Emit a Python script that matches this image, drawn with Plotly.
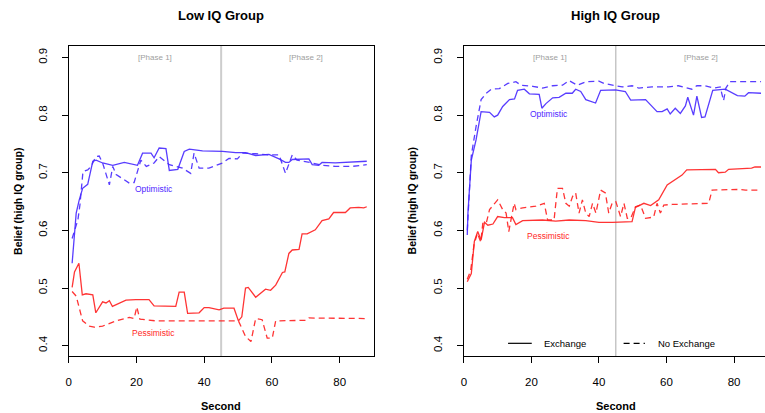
import plotly.graph_objects as go

W, H = 765, 413

# ---------------- data ----------------
low_opt_ex_t = [1, 1.7, 2.2, 3.1, 4.1, 5.6, 7.1, 8.1, 10, 13, 16.4, 20.3, 21.8, 24.3, 25.2, 26.7, 28.7, 29.7, 32.2,
                34.1, 35.6, 39.5, 45.4, 49.3, 52.2, 55.2, 59.1, 62.1, 64, 65, 66, 70.9, 71.9, 73.8, 74.8, 78.7, 88]
low_opt_ex_y = [0.543, 0.592, 0.63, 0.653, 0.673, 0.68, 0.72, 0.722, 0.717, 0.713, 0.718, 0.713, 0.734, 0.734, 0.726,
                0.743, 0.742, 0.704, 0.706, 0.737, 0.741, 0.738, 0.737, 0.735, 0.735, 0.730, 0.732, 0.724, 0.718, 0.718,
                0.723, 0.724, 0.714, 0.713, 0.718, 0.717, 0.72]

low_opt_no_t = [1, 2.7, 3.3, 3.8, 4.2, 5.6, 6.6, 8, 9, 10, 12, 13, 14, 17.9, 19.3, 21.3, 22.9, 25.2, 26.7, 29.7, 33.6,
                36, 37, 38.5, 41.4, 45.4, 47.3, 49.8, 51.3, 55.2, 59.1, 62.1, 64, 66, 67.4, 71.9, 74.8, 78.7, 83.6, 88]
low_opt_no_y = [0.586, 0.618, 0.644, 0.676, 0.702, 0.705, 0.711, 0.728, 0.729, 0.717, 0.679, 0.711, 0.697, 0.682,
                0.683, 0.722, 0.711, 0.717, 0.728, 0.714, 0.708, 0.699, 0.734, 0.708, 0.708, 0.717, 0.725, 0.724,
                0.734, 0.733, 0.731, 0.731, 0.699, 0.731, 0.722, 0.717, 0.713, 0.711, 0.711, 0.714]

low_pes_ex_t = [1, 1.7, 3, 4, 5.1, 7.1, 8, 10, 11, 12, 12.9, 14.9, 16.9, 19.8, 23.7, 25.2, 31.6, 32.6, 34.1, 35.1,
                38.5, 40, 41.4, 44.4, 45.8, 48.8, 50.1, 51.1, 52.2, 53, 55.2, 58.1, 59.6, 61.1, 62.1, 63.1, 63.8, 65,
                66, 68, 68.9, 70.4, 72.8, 74.8, 76.8, 78.2, 81.7, 83.1, 85.6, 87.1, 88]
low_pes_ex_y = [0.501, 0.528, 0.543, 0.488, 0.490, 0.488, 0.457, 0.476, 0.474, 0.478, 0.468, 0.473, 0.479, 0.480,
                0.480, 0.469, 0.468, 0.493, 0.493, 0.456, 0.457, 0.466, 0.466, 0.462, 0.465, 0.465, 0.443, 0.450,
                0.500, 0.501, 0.484, 0.498, 0.496, 0.505, 0.517, 0.527, 0.528, 0.56, 0.566, 0.567, 0.594, 0.594,
                0.601, 0.617, 0.620, 0.631, 0.631, 0.639, 0.640, 0.639, 0.641]

low_pes_no_t = [1, 2.2, 4.1, 6.1, 7.5, 10, 14.1, 17.9, 19.3, 20.1, 21, 23.7, 25.6, 50.1, 52.2, 53.8, 55.2, 57.1,
                58.6, 60.1, 61.1, 70, 70.9, 88]
low_pes_no_y = [0.494, 0.486, 0.443, 0.434, 0.432, 0.434, 0.443, 0.449, 0.447, 0.467, 0.446, 0.445, 0.443, 0.443,
                0.416, 0.407, 0.447, 0.445, 0.413, 0.413, 0.443, 0.444, 0.448, 0.447]

high_opt_ex_t = [1, 1.2, 2.2, 3.6, 5.1, 6.6, 7.6, 9, 10, 11.5, 13.5, 15, 15.9, 17.9, 19.4, 22.3, 23.1, 24.3, 26.3,
                 28.2, 30.2, 32.1, 33.1, 34.6, 36.1, 39, 40.5, 44.9, 47.8, 49.4, 53.8, 57.2, 58.7, 60.2, 61.1, 62.6,
                 64.1, 65.6, 66.3, 68, 69, 70.4, 71.4, 73.7, 77.4, 81, 83.2, 84.3, 88]
high_opt_ex_y = [0.592, 0.63, 0.722, 0.757, 0.806, 0.806, 0.805, 0.797, 0.8, 0.815, 0.827, 0.828, 0.843, 0.845,
                 0.837, 0.836, 0.812, 0.82, 0.83, 0.831, 0.838, 0.838, 0.845, 0.841, 0.827, 0.821, 0.843, 0.844,
                 0.841, 0.826, 0.827, 0.806, 0.806, 0.811, 0.802, 0.812, 0.803, 0.816, 0.831, 0.8, 0.833, 0.796,
                 0.797, 0.843, 0.845, 0.834, 0.833, 0.839, 0.838]

high_opt_no_t = [1, 2.2, 3.6, 5.1, 6.6, 8.1, 10.5, 13, 15.4, 16.9, 20.4, 23.3, 26.3, 29.2, 31.1, 33.6, 36.1, 40,
                 41.5, 44.9, 46.9, 49.8, 51.8, 55.7, 60.6, 63.5, 67.5, 69, 71.4, 73.9, 75.9, 76.9, 77.6, 78.8, 88]
high_opt_no_y = [0.6, 0.73, 0.78, 0.827, 0.838, 0.845, 0.846, 0.855, 0.858, 0.852, 0.85, 0.847, 0.851, 0.852, 0.86,
                 0.852, 0.858, 0.859, 0.855, 0.852, 0.849, 0.851, 0.847, 0.849, 0.849, 0.851, 0.845, 0.851, 0.851,
                 0.847, 0.849, 0.825, 0.847, 0.858, 0.858]

high_pes_ex_t = [1, 2.2, 3.1, 4.1, 5.1, 6.1, 7.1, 8.6, 10, 12, 14.4, 15.4, 17.4, 20.3, 23.3, 27.2, 31.2, 36.1, 40,
                 44, 49.8, 50.8, 53.3, 55.3, 57.7, 60.2, 62.6, 64.6, 66, 74.5, 75.4, 77.4, 78.4, 85.2, 86.2, 88]
high_pes_ex_y = [0.511, 0.525, 0.581, 0.598, 0.583, 0.614, 0.609, 0.611, 0.624, 0.622, 0.622, 0.610, 0.617, 0.617,
                 0.618, 0.616, 0.618, 0.617, 0.614, 0.614, 0.615, 0.640, 0.647, 0.643, 0.653, 0.679, 0.688, 0.696,
                 0.705, 0.706, 0.700, 0.701, 0.706, 0.708, 0.71, 0.71]

high_pes_no_t = [1, 2, 3, 4, 5, 5.6, 6.6, 7.6, 10, 11.5, 12.5, 13.3, 14, 14.9, 15.4, 17.4, 21.3, 23.8, 24.8, 26.7,
                 27.7, 29.2, 30.2, 31.2, 32.2, 33.1, 34.1, 35.1, 36.1, 37.1, 38.1, 39.1, 40.5, 41.9, 42.9, 43.9, 45,
                 46.4, 47.4, 48.4, 49.4, 50.8, 52.3, 53.8, 56.2, 57.2, 58.2, 59.2, 61.7, 72.5, 73.5, 77.4, 81.4,
                 83.4, 88]
high_pes_no_y = [0.515, 0.53, 0.575, 0.595, 0.58, 0.612, 0.612, 0.636, 0.653, 0.636, 0.63, 0.598, 0.62, 0.647,
                 0.636, 0.639, 0.642, 0.647, 0.618, 0.618, 0.673, 0.673, 0.647, 0.642, 0.659, 0.665, 0.63, 0.653,
                 0.63, 0.624, 0.647, 0.63, 0.670, 0.665, 0.63, 0.647, 0.65, 0.624, 0.647, 0.621, 0.621, 0.641,
                 0.644, 0.621, 0.623, 0.647, 0.630, 0.644, 0.645, 0.647, 0.670, 0.671, 0.671, 0.670, 0.670]

x_ticks = [0, 20, 40, 60, 80]
y_ticks = [0.4, 0.5, 0.6, 0.7, 0.8, 0.9]
phase_split = 45
titles = ["Low IQ Group", "High IQ Group"]

# ---------------- styling ----------------
BLUE = "rgba(70,40,255,0.9)"
RED = "rgba(255,30,30,0.9)"
FONT = "Liberation Sans, Arial, sans-serif"
LW = 1.3
DASH = "6px,4px"

# panel geometry in pixels
L_left, L_right = 66, 372
R_left, R_right = 462.7, 765
top, bottom = 46, 356


def px_x(p):
    return p / W


def px_y(p):
    return 1 - p / H


fig = go.Figure()

series = [
    (low_opt_ex_t, low_opt_ex_y, BLUE, "solid", "x", "y"),
    (low_opt_no_t, low_opt_no_y, BLUE, DASH, "x", "y"),
    (low_pes_ex_t, low_pes_ex_y, RED, "solid", "x", "y"),
    (low_pes_no_t, low_pes_no_y, RED, DASH, "x", "y"),
    (high_opt_ex_t, high_opt_ex_y, BLUE, "solid", "x2", "y2"),
    (high_opt_no_t, high_opt_no_y, BLUE, DASH, "x2", "y2"),
    (high_pes_ex_t, high_pes_ex_y, RED, "solid", "x2", "y2"),
    (high_pes_no_t, high_pes_no_y, RED, DASH, "x2", "y2"),
]
for t, v, c, d, xa, ya in series:
    fig.add_trace(go.Scatter(x=t, y=v, mode="lines", xaxis=xa, yaxis=ya, showlegend=False,
                             line=dict(color=c, width=LW, dash=d), hoverinfo="skip"))

yrange = [0.382, 0.92]
axis_common = dict(showgrid=False, zeroline=False, showline=True, linecolor="black", linewidth=1.3,
                   ticks="outside", ticklen=6, tickwidth=1, tickcolor="black",
                   tickfont=dict(family=FONT, size=11.5, color="black"))

fig.update_layout(
    width=W, height=H, margin=dict(l=0, r=0, t=0, b=0),
    plot_bgcolor="white", paper_bgcolor="white",
    xaxis=dict(domain=[px_x(L_left), px_x(L_right)], range=[0, 90], tickvals=x_ticks, mirror=True,
               anchor="y", ticklabelstandoff=9, **axis_common),
    yaxis=dict(domain=[px_y(bottom), px_y(top)], range=yrange, tickvals=y_ticks, mirror=True,
               anchor="x", tickangle=-90, ticklabelstandoff=10, **axis_common),
    xaxis2=dict(domain=[px_x(R_left), 1.0], range=[0, (R_right - R_left) / 3.39], tickvals=x_ticks,
                mirror=True, anchor="y2", ticklabelstandoff=9, **axis_common),
    yaxis2=dict(domain=[px_y(bottom), px_y(top)], range=yrange, tickvals=y_ticks, mirror=False,
                anchor="x2", tickangle=-90, ticklabelstandoff=10, **axis_common),
)

# phase separator lines
fig.add_shape(type="line", xref="x", yref="y domain", x0=phase_split, x1=phase_split, y0=0, y1=1,
              line=dict(color="rgb(205,205,205)", width=2), layer="below")
fig.add_shape(type="line", xref="x2", yref="y2 domain", x0=phase_split, x1=phase_split, y0=0, y1=1,
              line=dict(color="rgb(170,170,170)", width=1), layer="below")

ann = []
# titles
for i, (l, r) in enumerate([(L_left, L_right), (R_left, 768)]):
    ann.append(dict(text="<b>%s</b>" % titles[i], x=px_x((l + r) / 2), y=px_y(16), xref="paper", yref="paper",
                    showarrow=False, font=dict(family=FONT, size=13, color="black"), xanchor="center",
                    yanchor="middle"))
    ann.append(dict(text="<b>Second</b>", x=px_x((l + r) / 2), y=px_y(406), xref="paper", yref="paper",
                    showarrow=False, font=dict(family=FONT, size=11, color="black"), xanchor="center",
                    yanchor="middle"))
for xc in [15, 411]:
    ann.append(dict(text="<b>Belief (high IQ group)</b>", x=px_x(xc), y=px_y(201), xref="paper", yref="paper",
                    showarrow=False, textangle=-90, font=dict(family=FONT, size=10.5, color="black"),
                    xanchor="center", yanchor="middle"))

# phase labels & group labels
for xa, ya, oy, py in [("x", "y", 0.672, 0.422), ("x2", "y2", 0.802, 0.591)]:
    ann.append(dict(text="[Phase 1]", x=25.5, y=0.9, xref=xa, yref=ya, showarrow=False,
                    font=dict(family=FONT, size=8, color="rgb(160,160,160)")))
    ann.append(dict(text="[Phase 2]", x=70.2, y=0.9, xref=xa, yref=ya, showarrow=False,
                    font=dict(family=FONT, size=8, color="rgb(160,160,160)")))
    ann.append(dict(text="Optimistic", x=25.2, y=oy, xref=xa, yref=ya, showarrow=False,
                    font=dict(family=FONT, size=8.5, color="rgb(80,40,255)")))
    ann.append(dict(text="Pessimistic", x=25.1, y=py, xref=xa, yref=ya, showarrow=False,
                    font=dict(family=FONT, size=8.5, color="rgb(255,40,40)")))

# legend (right panel)
ann.append(dict(text="Exchange", x=23, y=0.404, xref="x2", yref="y2", showarrow=False, xanchor="left",
                font=dict(family=FONT, size=9.5, color="black")))
ann.append(dict(text="No Exchange", x=57.0, y=0.404, xref="x2", yref="y2", showarrow=False, xanchor="left",
                font=dict(family=FONT, size=9.5, color="black")))
fig.add_shape(type="line", xref="x2", yref="y2", x0=13.1, x1=20.1, y0=0.404, y1=0.404,
              line=dict(color="black", width=1.2))
fig.add_shape(type="line", xref="x2", yref="y2", x0=47.3, x1=53.6, y0=0.404, y1=0.404,
              line=dict(color="black", width=1.2, dash="6px,4px"))

fig.update_layout(annotations=ann)
fig.write_html("out.html", config={"displayModeBar": False},
               post_script="document.body.style.margin='0';document.body.style.overflow='hidden';")
